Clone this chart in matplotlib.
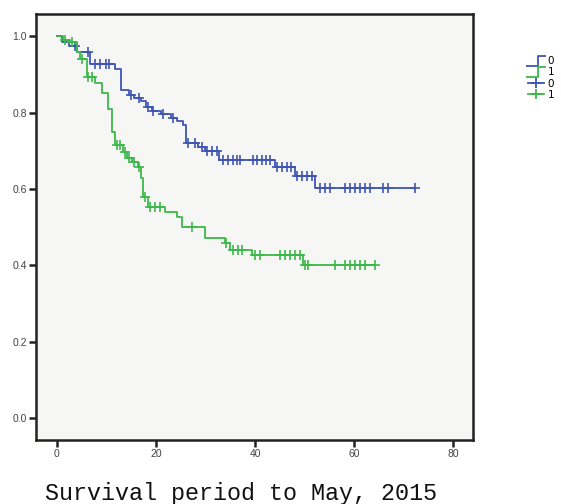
import numpy as np
import matplotlib
matplotlib.use("Agg")
import matplotlib.pyplot as plt
from matplotlib.path import Path
from matplotlib.lines import Line2D

# Kaplan-Meier steps (time, survival after the step)
blue_t = [0, 1.0, 2.5, 4.0, 6.7, 11.7, 13.0, 14.5, 15.5, 17.0, 18.0, 19.3, 21.0,
          23.0, 24.3, 25.5, 26.0, 28.5, 30.0, 32.7, 44.0, 48.0, 52.1, 72.3]
blue_s = [1.0, 0.985, 0.975, 0.96, 0.928, 0.915, 0.86, 0.847, 0.838, 0.83, 0.815,
          0.805, 0.795, 0.786, 0.777, 0.768, 0.72, 0.71, 0.70, 0.676, 0.658,
          0.634, 0.603, 0.603]
blue_cens = [3.6, 6.2, 7.7, 8.7, 10.0, 10.5, 15.0, 16.5, 18.5, 19.5, 21.5, 23.5,
             26.5, 27.9, 29.3, 30.3, 31.3, 32.3, 33.5, 34.5, 35.6, 36.4, 37.0,
             39.6, 40.4, 41.4, 42.2, 43.0, 44.5, 45.5, 46.5, 47.3, 48.5, 49.5,
             50.5, 51.5, 53.1, 54.1, 55.2, 58.2, 59.2, 60.2, 61.2, 62.2, 63.2,
             65.9, 66.9, 72.3]

green_t = [0, 1.2, 2.6, 4.0, 4.6, 6.1, 7.7, 9.1, 10.3, 11.1, 11.7, 13.3, 14.1,
           15.2, 16.4, 17.0, 17.4, 18.4, 21.8, 24.2, 25.3, 29.9, 33.9, 35.0,
           39.4, 49.7, 64.2]
green_s = [1.0, 0.99, 0.985, 0.96, 0.94, 0.894, 0.878, 0.852, 0.81, 0.75, 0.716,
           0.697, 0.68, 0.671, 0.658, 0.628, 0.579, 0.553, 0.54, 0.527, 0.50,
           0.472, 0.459, 0.44, 0.427, 0.40, 0.40]
green_cens = [1.6, 3.0, 5.0, 6.3, 7.1, 12.1, 12.7, 13.7, 14.5, 15.6, 16.6, 17.8,
              18.8, 19.8, 20.8, 27.3, 34.2, 35.6, 36.6, 37.4, 40.0, 41.0, 45.0,
              46.0, 47.1, 48.1, 49.1, 50.1, 50.7, 56.2, 58.2, 59.2, 60.2, 61.2,
              62.2, 64.2]

x_ticks = [0, 20, 40, 60, 80]
y_ticks = [0.0, 0.2, 0.4, 0.6, 0.8, 1.0]
group_labels = ["0", "1"]

BLUE = "#3f55b3"
GREEN = "#3cb84a"


def surv_at(times, surv, t):
    idx = np.searchsorted(np.asarray(times), np.asarray(t), side="right") - 1
    return np.asarray(surv)[idx]


fig = plt.figure(figsize=(5.61, 5.04), dpi=100)
ax = fig.add_axes([0.0642, 0.127, 0.779, 0.845])
ax.set_facecolor("#f6f6f4")

for t, s, c, col in [(blue_t, blue_s, blue_cens, BLUE),
                     (green_t, green_s, green_cens, GREEN)]:
    ax.step(t, s, where="post", color=col, lw=1.3)
    ax.plot(c, surv_at(t, s, c), linestyle="none", marker="+",
            markersize=6.5, mew=1.2, color=col)

ax.set_xlim(-4.2, 84.0)
ax.set_ylim(-0.058, 1.058)
ax.set_xticks(x_ticks)
ax.set_yticks(y_ticks)
ax.set_xticklabels([str(v) for v in x_ticks], family="Liberation Sans")
ax.set_yticklabels([f"{v:.1f}" for v in y_ticks], family="Liberation Sans")
ax.tick_params(direction="out", length=5, width=1.8, color="#222222",
               labelsize=7.5, labelcolor="#444444", pad=1.5)
for sp in ax.spines.values():
    sp.set_linewidth(1.8)
    sp.set_color("#222222")

ax.set_xlabel("Survival period to May, 2015", family="Liberation Mono",
              fontsize=16.8, color="#111111")
ax.xaxis.set_label_coords(0.47, -0.098)

# SPSS-style legend: step icon for the curves, plus for censored
step_icon = Path([(-1.0, -0.45), (0.15, -0.45), (0.15, 0.45), (1.0, 0.45)],
                 [Path.MOVETO, Path.LINETO, Path.LINETO, Path.LINETO])
handles = [
    Line2D([], [], marker=step_icon, linestyle="none", markersize=15,
           fillstyle="none", mew=1.3, color=BLUE),
    Line2D([], [], marker=step_icon, linestyle="none", markersize=15,
           fillstyle="none", mew=1.3, color=GREEN),
    Line2D([], [], marker="+", linestyle="-", lw=1.3, markersize=7, mew=1.3,
           color=BLUE),
    Line2D([], [], marker="+", linestyle="-", lw=1.3, markersize=7, mew=1.3,
           color=GREEN),
]
fig.legend(handles, group_labels + group_labels, loc="center",
           bbox_to_anchor=(0.964, 0.845), frameon=False, fontsize=7.5,
           handlelength=1.6, handletextpad=0.3, labelspacing=0.12,
           borderpad=0)

fig.savefig("out.png", dpi=100)
